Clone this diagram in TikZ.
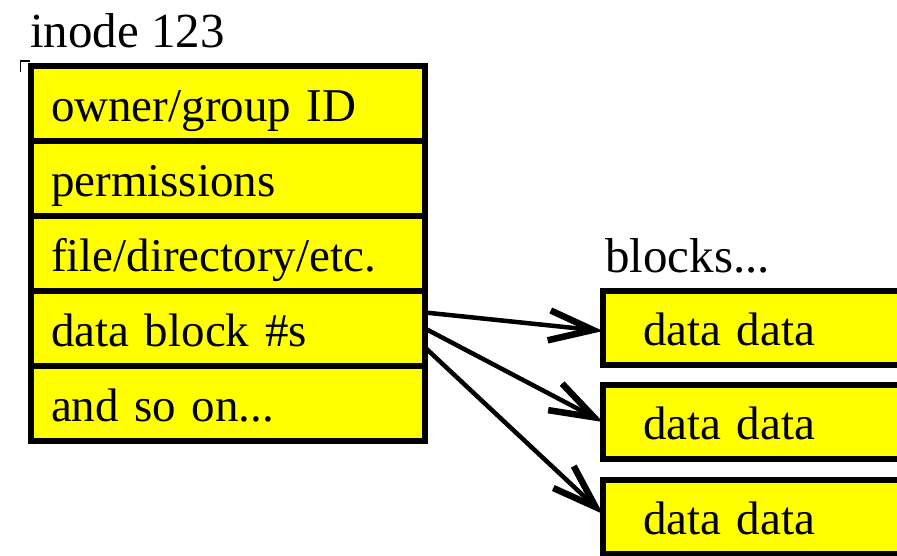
\documentclass[tikz,border=0pt]{standalone}
\usepackage{fontspec}
\setmainfont{Liberation Serif}
\usetikzlibrary{arrows.meta}
\definecolor{fieldyellow}{RGB}{255,255,0}
\begin{document}
\begin{tikzpicture}[x=1pt,y=-1pt,
  boxtext/.style={font=\fontsize{47}{56}\selectfont, text height=40pt, text depth=5pt},
  field/.style={boxtext, draw=black, fill=fieldyellow, line width=6pt, outer sep=0pt,
    minimum width=394pt, minimum height=75pt, inner ysep=0pt, inner xsep=20pt,
    text width=354pt, align=left},
  block/.style={boxtext, draw=black, fill=fieldyellow, line width=6pt, outer sep=0pt,
    minimum height=74pt, inner ysep=0pt, inner xsep=40pt,
    text width=300pt, align=left, anchor=north west},
  caption/.style={font=\fontsize{49}{58}\selectfont, anchor=base west, inner sep=0pt},
  link/.style={line width=4.5pt,
    -{Straight Barb[length=44pt,width=30pt,line width=6.5pt]}}]
  \useasboundingbox (0,0) rectangle (897,555);
  \clip (0,0) rectangle (897,555);

  % inode table
  \node[caption] (title) at (30,47) {inode 123};
  \draw[line width=1.5pt] (20.5,72) -- (20.5,61) -- (30,61);
  \node[field] (r1) at (228,103.5) {owner/group ID};
  \node[field] (r2) at (228,178.5) {permissions};
  \node[field] (r3) at (228,253.5) {file/directory/etc.};
  \node[field] (r4) at (228,328.5) {data block \#s};
  \node[field] (r5) at (228,403.5) {and so on...};

  % data blocks
  \node[caption] (blk) at (605,272) {blocks...};
  \node[block] (b1) at (603,291) {data data};
  \node[block] (b2) at (603,385) {data data};
  \node[block] (b3) at (603,480) {data data};

  % pointers from the inode to its blocks
  \draw[link] ([yshift=16pt]r4.east) -- ([yshift=-3pt]b1.west);
  \draw[link] (r4.east) -- (b2.west);
  \draw[link] ([yshift=-19pt]r4.east) -- ([yshift=3pt]b3.west);
\end{tikzpicture}
\end{document}
